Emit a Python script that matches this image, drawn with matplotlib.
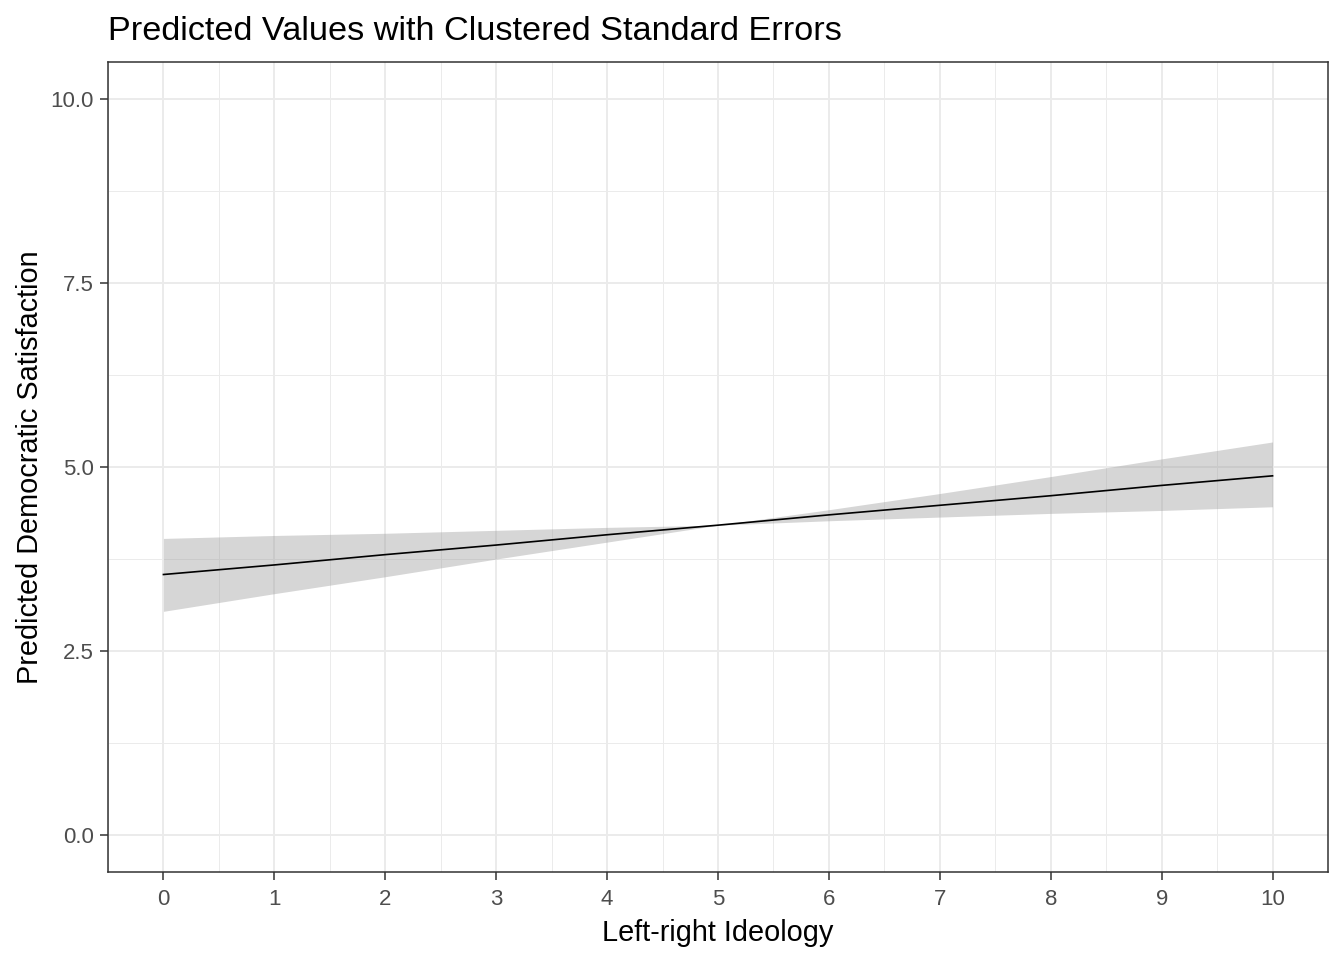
import matplotlib
matplotlib.use("Agg")
from matplotlib import pyplot as plt
from matplotlib.ticker import MultipleLocator

plt.rcParams['font.family'] = ['Liberation Sans', 'DejaVu Sans']

# predicted values
ideology = [0, 1, 2, 3, 4, 5, 6, 7, 8, 9, 10]
predicted = [3.54, 3.67, 3.81, 3.94, 4.08, 4.21, 4.35, 4.48, 4.61, 4.75, 4.88]
ci_lower = [3.04, 3.28, 3.51, 3.75, 3.98, 4.21, 4.27, 4.32, 4.37, 4.41, 4.46]
ci_upper = [4.03, 4.07, 4.10, 4.14, 4.18, 4.21, 4.42, 4.64, 4.87, 5.11, 5.34]

fig = plt.figure(figsize=(13.44, 9.6), dpi=100)
ax = fig.add_axes([108 / 1344, 1 - 872 / 960, 1220 / 1344, 810 / 960])

ax.fill_between(ideology, ci_lower, ci_upper, color='#999999', alpha=0.4,
                linewidth=0, zorder=2)
ax.plot(ideology, predicted, color='black', linewidth=1.2, zorder=3)

ax.set_xlim(-0.5, 10.5)
ax.set_ylim(-0.5, 10.5)
ax.xaxis.set_major_locator(MultipleLocator(1))
ax.xaxis.set_minor_locator(MultipleLocator(0.5))
ax.yaxis.set_major_locator(MultipleLocator(2.5))
ax.yaxis.set_minor_locator(MultipleLocator(1.25))
ax.yaxis.set_major_formatter(lambda v, p: f"{v:.1f}")

# theme_bw style grid and frame
ax.grid(which='major', color='#EBEBEB', linewidth=1.4, zorder=0)
ax.grid(which='minor', color='#EBEBEB', linewidth=0.7, zorder=0)
ax.set_axisbelow(True)
for s in ax.spines.values():
    s.set_color('#333333')
    s.set_linewidth(1.1)
ax.tick_params(which='major', length=6, width=1.1, color='#333333',
               labelcolor='#4D4D4D', labelsize=16, pad=4)
ax.tick_params(axis='x', which='major', pad=6)
ax.tick_params(which='minor', length=0)

ax.set_xlabel("Left-right Ideology", fontsize=20.8, labelpad=7)
ax.set_ylabel("Predicted Democratic Satisfaction", fontsize=20.8, labelpad=5)
ax.set_title("Predicted Values with Clustered Standard Errors", fontsize=24.7,
             loc='left', pad=16)

fig.savefig("out.png", dpi=100)
